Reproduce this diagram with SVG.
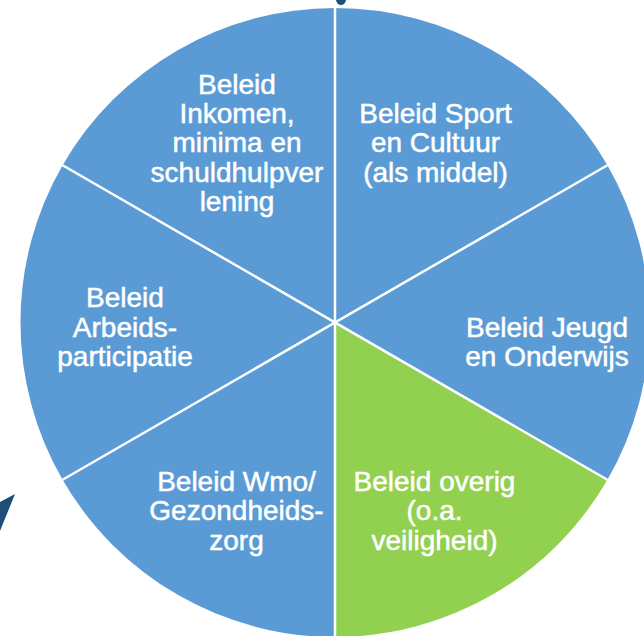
<svg xmlns="http://www.w3.org/2000/svg" width="644" height="636" viewBox="0 0 644 636">
<style>
.blue{fill:#5B9BD5}
.green{fill:#92D050}
.lbl{font-family:"Liberation Sans",Arial,sans-serif;font-size:28px;fill:#FFFFFF;stroke:#FFFFFF;stroke-width:0.5;text-anchor:middle}
.div{stroke:#FFFFFF;stroke-width:2.5;fill:none}
.dark{fill:#1F4E79}
</style>
<rect width="644" height="636" fill="#FFFFFF"/>
<path class="dark" d="M0,502 L15,494 L0,531 Z"/>
<path class="dark" d="M336,0 L346,0 Q345,5 341,5 Q337,5 336,0 Z"/>
<g id="sport">
<path class="blue" d="M335,322.5 L335,8 A314.5,314.5 0 0 1 607.4,165.25 Z"/>
<text class="lbl" x="435.5" y="122.5">Beleid Sport</text>
<text class="lbl" x="435.5" y="152">en Cultuur</text>
<text class="lbl" x="435.5" y="181.5">(als middel)</text>
</g>
<g id="jeugd">
<path class="blue" d="M335,322.5 L607.4,165.25 A314.5,314.5 0 0 1 607.4,479.75 Z"/>
<text class="lbl" x="547" y="336.5">Beleid Jeugd</text>
<text class="lbl" x="547" y="366">en Onderwijs</text>
</g>
<g id="overig">
<path class="green" d="M335,322.5 L607.4,479.75 A314.5,314.5 0 0 1 335,637 Z"/>
<text class="lbl" x="434.5" y="491">Beleid overig</text>
<text class="lbl" x="434.5" y="520">(o.a.</text>
<text class="lbl" x="434.5" y="549.5">veiligheid)</text>
</g>
<g id="wmo">
<path class="blue" d="M335,322.5 L335,637 A314.5,314.5 0 0 1 62.6,479.75 Z"/>
<text class="lbl" x="236.5" y="491">Beleid Wmo/</text>
<text class="lbl" x="236.5" y="520">Gezondheids-</text>
<text class="lbl" x="236.5" y="549.5">zorg</text>
</g>
<g id="arbeid">
<path class="blue" d="M335,322.5 L62.6,479.75 A314.5,314.5 0 0 1 62.6,165.25 Z"/>
<text class="lbl" x="125" y="307">Beleid</text>
<text class="lbl" x="125" y="336.5">Arbeids-</text>
<text class="lbl" x="125" y="366">participatie</text>
</g>
<g id="inkomen">
<path class="blue" d="M335,322.5 L62.6,165.25 A314.5,314.5 0 0 1 335,8 Z"/>
<text class="lbl" x="237" y="93.5">Beleid</text>
<text class="lbl" x="237" y="122.5">Inkomen,</text>
<text class="lbl" x="237" y="152">minima en</text>
<text class="lbl" x="237" y="181.5">schuldhulpver</text>
<text class="lbl" x="237" y="211">lening</text>
</g>
<g id="dividers">
<line class="div" x1="335" y1="6" x2="335" y2="640"/>
<line class="div" x1="62.6" y1="165.25" x2="607.4" y2="479.75"/>
<line class="div" x1="62.6" y1="479.75" x2="607.4" y2="165.25"/>
</g>
</svg>
